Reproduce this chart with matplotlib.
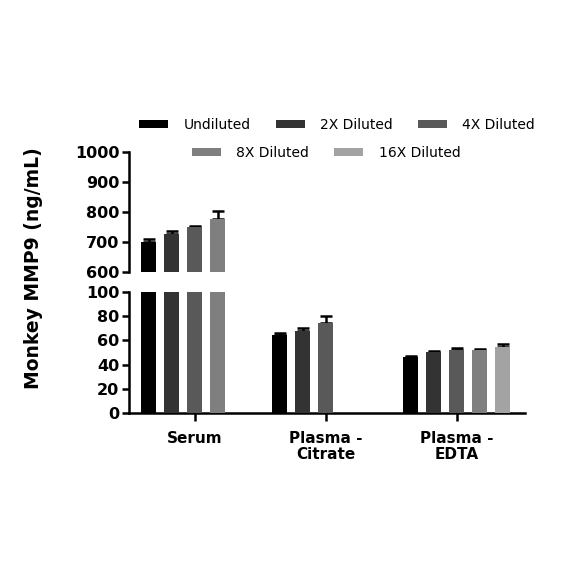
import matplotlib
matplotlib.use("Agg")
import matplotlib.pyplot as plt
from matplotlib.patches import Patch
import numpy as np

categories = ["Serum", "Plasma -\nCitrate", "Plasma -\nEDTA"]
series = ["Undiluted", "2X Diluted", "4X Diluted", "8X Diluted", "16X Diluted"]
colors = ["#000000", "#333333", "#595959", "#7f7f7f", "#a3a3a3"]

# values per series across categories (nan = not measured)
undiluted = [701, 64.5, 46.5]
x2 = [726, 68, 50.4]
x4 = [749, 74, 52]
x8 = [777, np.nan, 52]
x16 = [np.nan, np.nan, 54.8]
err_undiluted = [9, 2, 1]
err_x2 = [11, 2, 1]
err_x4 = [6, 6, 1.5]
err_x8 = [27, np.nan, 1]
err_x16 = [np.nan, np.nan, 2]

values = [undiluted, x2, x4, x8, x16]
errors = [err_undiluted, err_x2, err_x4, err_x8, err_x16]

plt.rcParams['font.family'] = ['DejaVu Sans']

fig = plt.figure(figsize=(5.84, 5.84), dpi=100)
left = 129 / 584
width = (525 - 129) / 584
ax_top = fig.add_axes([left, 1 - 272 / 584, width, 120 / 584])
ax_bot = fig.add_axes([left, 1 - 413 / 584, width, 121 / 584])

x = np.arange(len(categories))
slot = 0.1756
bw = 0.115
lw = 1.8

for ax in (ax_top, ax_bot):
    for j, (vals, errs) in enumerate(zip(values, errors)):
        pos = x + (j - 2) * slot
        v = np.array(vals, dtype=float)
        e = np.array(errs, dtype=float)
        mask = ~np.isnan(v)
        ax.bar(pos[mask], v[mask], width=bw, color=colors[j], zorder=3)
        ax.errorbar(pos[mask], v[mask], yerr=[np.zeros(mask.sum()), e[mask]],
                    fmt="none", ecolor="black", elinewidth=1.8, capsize=4,
                    capthick=1.8, zorder=2)
    ax.set_xlim(-0.5, 2.52)
    ax.spines['top'].set_visible(False)
    ax.spines['right'].set_visible(False)
    ax.spines['left'].set_linewidth(lw)
    ax.spines['bottom'].set_linewidth(lw)
    ax.tick_params(axis='y', direction='out', length=5, width=lw, labelsize=11.5, pad=2)

ax_top.set_ylim(600, 1000)
ax_top.set_yticks([600, 700, 800, 900, 1000])
ax_top.spines['bottom'].set_visible(False)
ax_top.set_xticks([])
for t in ax_top.get_yticklabels():
    t.set_fontweight('bold')

ax_bot.set_ylim(0, 100)
ax_bot.set_yticks([0, 20, 40, 60, 80, 100])
ax_bot.set_xticks(x)
ax_bot.set_xticklabels(categories, fontsize=11, fontweight='bold', linespacing=1.1)
ax_bot.tick_params(axis='x', direction='out', length=6, width=lw, pad=7)
for t in ax_bot.get_yticklabels():
    t.set_fontweight('bold')

fig.text(34 / 584, 1 - 268 / 584, "Monkey MMP9 (ng/mL)", rotation=90,
         fontsize=13.5, fontweight='bold', ha='center', va='center')

handles = [Patch(facecolor=c, edgecolor='none') for c in colors]
leg1 = fig.legend(handles[:3], series[:3], loc='center', ncol=3,
                  bbox_to_anchor=(337 / 584, 1 - 125 / 584), frameon=False,
                  fontsize=10, handlelength=2.1, handleheight=0.43,
                  handletextpad=1.1, columnspacing=1.8)
leg2 = fig.legend(handles[3:], series[3:], loc='center', ncol=2,
                  bbox_to_anchor=(326 / 584, 1 - 153 / 584), frameon=False,
                  fontsize=10, handlelength=2.1, handleheight=0.43,
                  handletextpad=1.1, columnspacing=1.8)

fig.savefig("out.png", dpi=100)
